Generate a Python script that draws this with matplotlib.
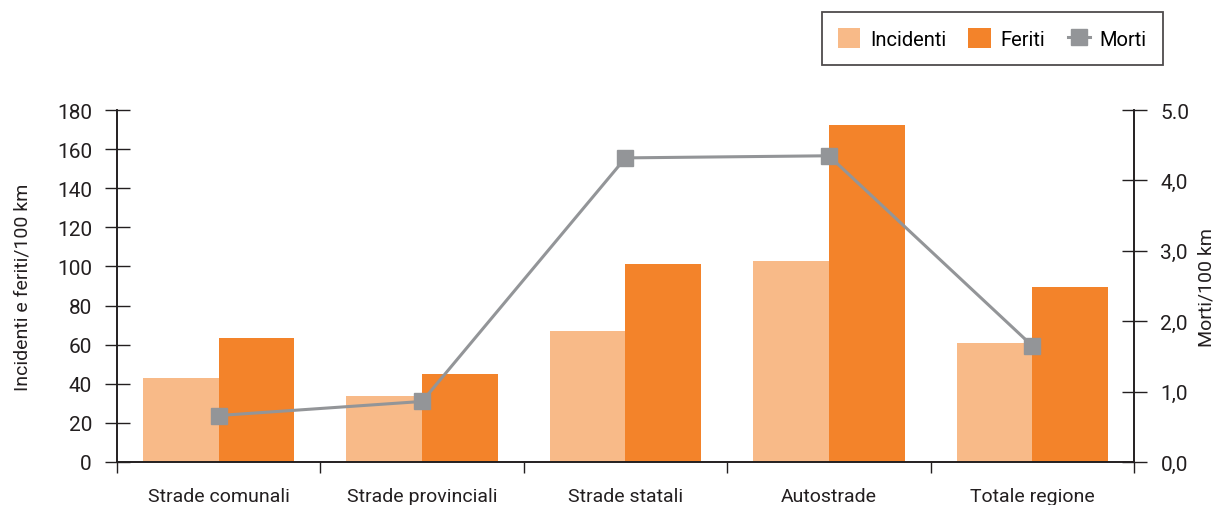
import matplotlib
matplotlib.use("Agg")
import matplotlib.pyplot as plt
import numpy as np
from matplotlib.lines import Line2D
from matplotlib.patches import Patch

plt.rcParams['font.family'] = ['Roboto', 'DejaVu Sans']

categories = ["Strade comunali", "Strade provinciali", "Strade statali", "Autostrade", "Totale regione"]
incidenti = [43.0, 34.0, 67.2, 102.8, 61.0]
feriti = [63.5, 45.2, 101.2, 172.2, 89.5]
morti = [0.66, 0.86, 4.32, 4.35, 1.65]
left_ticks = [0, 20, 40, 60, 80, 100, 120, 140, 160, 180]
right_ticks = [0.0, 1.0, 2.0, 3.0, 4.0, 5.0]
right_tick_labels = ["0,0", "1,0", "2,0", "3,0", "4,0", "5.0"]

c_inc = "#F8BA88"
c_fer = "#F3832A"
c_mor = "#939598"
c_axis = "#231F20"

fig = plt.figure(figsize=(12.2, 5.06), dpi=100)
ax = fig.add_axes([0.0959, 0.0850, 0.8336, 0.6956])
ax2 = ax.twinx()

x = np.arange(len(categories))
w = 0.372
ax.bar(x - w / 2, incidenti, w, color=c_inc, zorder=2)
ax.bar(x + w / 2, feriti, w, color=c_fer, zorder=2)

ax2.plot(x, morti, color=c_mor, lw=2.2, marker='s', ms=12, mfc=c_mor, mec=c_mor, zorder=3)

ax.set_xlim(-0.5, len(categories) - 0.5)
ax.set_ylim(0, 180)
ax2.set_ylim(0, 5.0)

for a in (ax, ax2):
    a.spines['top'].set_visible(False)
    for s in ['left', 'right', 'bottom']:
        a.spines[s].set_color(c_axis)
        a.spines[s].set_linewidth(1.2)

ax.set_yticks(left_ticks)
ax.set_yticklabels([str(t) for t in left_ticks])
ax.tick_params(axis='y', direction='inout', length=18, width=1.0, colors=c_axis,
               labelsize=15, pad=9, labelcolor="#231F20")
ax2.set_yticks(right_ticks)
ax2.set_yticklabels(right_tick_labels)
ax2.tick_params(axis='y', direction='inout', length=18, width=1.0, colors=c_axis,
                labelsize=15, pad=10, labelcolor="#231F20")

ax.set_xticks(x)
ax.set_xticklabels(categories)
ax.tick_params(axis='x', which='major', length=0, labelsize=14, pad=18, labelcolor="#231F20")
ax.set_xticks(np.arange(-0.5, len(categories), 1.0), minor=True)
ax.tick_params(axis='x', which='minor', direction='out', length=8, width=1.0, color=c_axis)

ax.set_ylabel("Incidenti e feriti/100 km", fontsize=14, color="#231F20", labelpad=18)
ax2.set_ylabel("Morti/100 km", fontsize=14, color="#231F20", labelpad=6)

handles = [
    Patch(facecolor=c_inc, edgecolor='none', label="Incidenti"),
    Patch(facecolor=c_fer, edgecolor='none', label="Feriti"),
    Line2D([0], [0], color=c_mor, lw=2.2, marker='s', ms=12, label="Morti"),
]
leg = fig.legend(handles=handles, loc='upper right', bbox_to_anchor=(0.9533, 0.974),
                 borderaxespad=0, ncol=3, frameon=True, fancybox=False, fontsize=14.5,
                 handlelength=1.1, handleheight=1.1, handletextpad=0.5,
                 columnspacing=1.1, borderpad=0.8)
leg.get_frame().set_edgecolor("#231F20")
leg.get_frame().set_linewidth(1.3)

fig.savefig("out.png", dpi=100)
